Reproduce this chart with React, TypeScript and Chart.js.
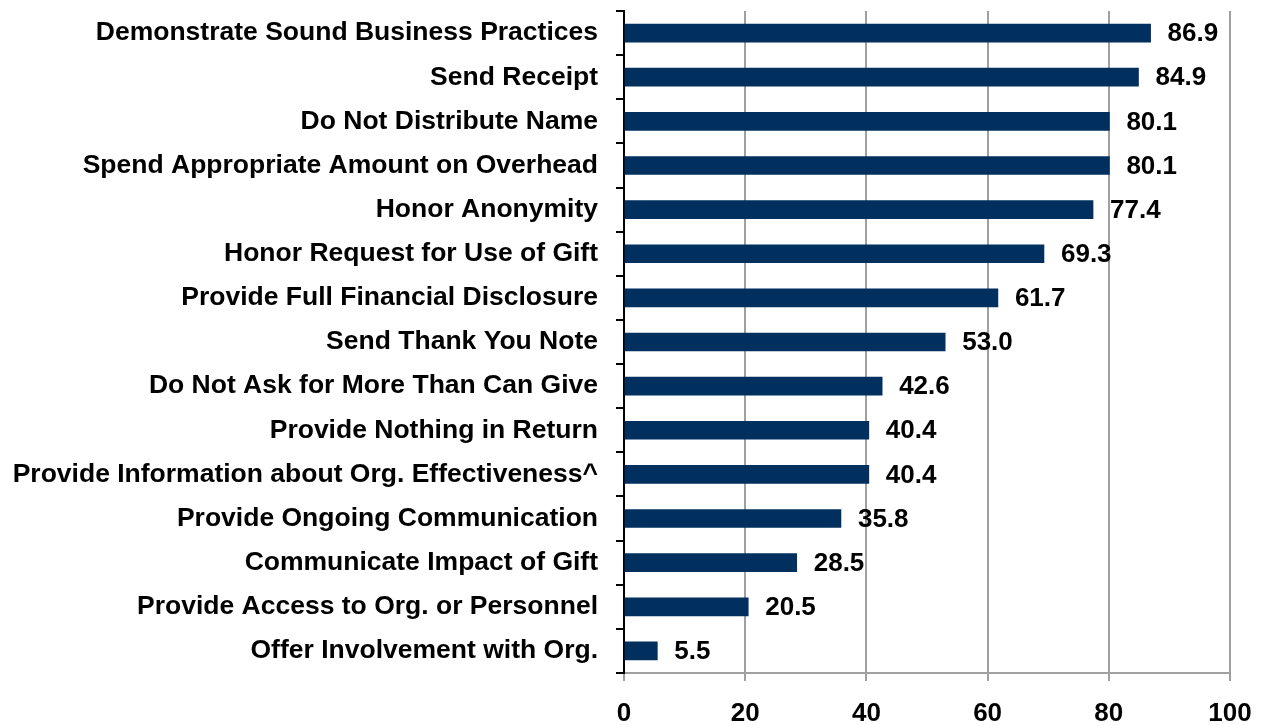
import React, { useEffect, useRef } from "react";
import { Chart, registerables } from "chart.js";

Chart.register(...registerables);

const categories: string[] = [
  "Demonstrate Sound Business Practices",
  "Send Receipt",
  "Do Not Distribute Name",
  "Spend Appropriate Amount on Overhead",
  "Honor Anonymity",
  "Honor Request for Use of Gift",
  "Provide Full Financial Disclosure",
  "Send Thank You Note",
  "Do Not Ask for More Than Can Give",
  "Provide Nothing in Return",
  "Provide Information about Org. Effectiveness^",
  "Provide Ongoing Communication",
  "Communicate Impact of Gift",
  "Provide Access to Org. or Personnel",
  "Offer Involvement with Org.",
];

const values: number[] = [86.9, 84.9, 80.1, 80.1, 77.4, 69.3, 61.7, 53.0, 42.6, 40.4, 40.4, 35.8, 28.5, 20.5, 5.5];

const xTicks: number[] = [0, 20, 40, 60, 80, 100];

const BAR_COLOR = "#01305f";
const FONT = "'Liberation Sans', Arial, sans-serif";

const valueLabels = {
  id: "valueLabels",
  afterDatasetsDraw(chart: any) {
    const ctx = chart.ctx;
    const meta = chart.getDatasetMeta(0);
    ctx.save();
    ctx.font = `bold 26px ${FONT}`;
    ctx.fillStyle = "#000";
    ctx.textAlign = "left";
    ctx.textBaseline = "middle";
    meta.data.forEach((bar: any, i: number) => {
      const v = chart.data.datasets[0].data[i] as number;
      ctx.fillText(v.toFixed(1), bar.x + 17, bar.y + 1);
    });
    ctx.restore();
  },
};

export default function App() {
  const ref = useRef<HTMLCanvasElement | null>(null);
  useEffect(() => {
    if (!ref.current) return;
    const chart = new Chart(ref.current, {
      type: "bar",
      data: {
        labels: categories,
        datasets: [
          {
            data: values,
            backgroundColor: BAR_COLOR,
            barThickness: 18,
          },
        ],
      },
      options: {
        indexAxis: "y",
        animation: false,
        responsive: false,
        layout: { padding: { top: 11, right: 33, left: 0, bottom: 0 } },
        plugins: { legend: { display: false }, tooltip: { enabled: false } },
        scales: {
          x: {
            min: 0,
            max: 100,
            afterBuildTicks: (scale: any) => {
              scale.ticks = xTicks.map((v) => ({ value: v }));
            },
            afterFit: (scale: any) => {
              scale.height = 52;
              scale.paddingLeft = 0;
              scale.paddingRight = 0;
            },
            grid: {
              color: "#a0a0a0",
              lineWidth: 2,
              tickLength: 8,
              drawTicks: true,
            },
            border: { color: "#a0a0a0", width: 2 },
            ticks: {
              padding: 17,
              color: "#000",
              font: { family: FONT, size: 26, weight: "bold" },
            },
          },
          y: {
            afterFit: (scale: any) => {
              scale.width = 624;
              scale.paddingTop = 0;
              scale.paddingBottom = 0;
            },
            grid: {
              offset: true,
              drawOnChartArea: false,
              color: "#000",
              lineWidth: 2,
              tickLength: 8,
            },
            border: { color: "#000", width: 2 },
            ticks: {
              padding: 18,
              color: "#000",
              font: { family: FONT, size: 26.5, weight: "bold" },
            },
          },
        },
      },
      plugins: [valueLabels],
    });
    return () => chart.destroy();
  }, []);
  return (
    <div style={{ position: "absolute", left: 0, top: 0, width: 1263, height: 725, background: "#fff" }}>
      <canvas ref={ref} width={1263} height={725} />
    </div>
  );
}
